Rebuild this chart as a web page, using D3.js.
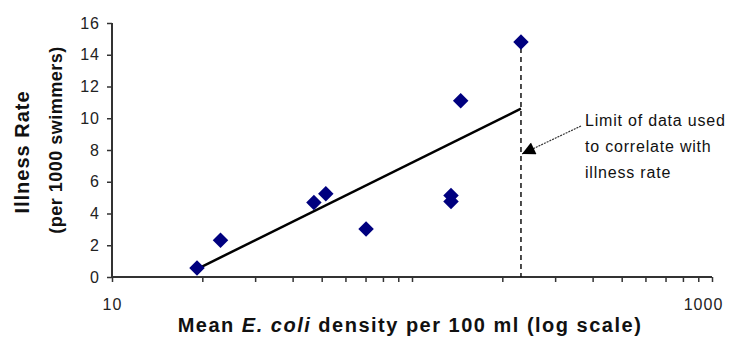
<!DOCTYPE html>
<html>
<head>
<meta charset="utf-8">
<script src="https://cdn.jsdelivr.net/npm/d3@7"></script>
<style>
  body { margin: 0; background: #fff; }
  svg { display: block; font-family: "Liberation Sans", Arial, sans-serif; }
</style>
</head>
<body>
<svg id="chart" width="736" height="337"></svg>
<script>
// E. coli density (per 100 ml) and illness rate (per 1000 swimmers)
const ecoli = [19.2, 23.0, 47.1, 51.6, 70.3, 134.9, 134.9, 145.3, 230.8];
const illness = [0.57, 2.31, 4.70, 5.25, 3.02, 5.14, 4.76, 11.1, 14.8];

// fitted line end points
const trendX = [19.2, 230.8];
const trendY = [0.5, 10.6];

const limitX = 230.8;

const xTicks = [10, 20, 30, 40, 50, 60, 70, 80, 90, 100, 200, 300, 400, 500, 600, 700, 800, 900, 1000];
const xLabels = [10, 1000];
const yTicks = [0, 2, 4, 6, 8, 10, 12, 14, 16];
const noteLines = ["Limit of data used", "to correlate with", "illness rate"];

const svg = d3.select('#chart');

const x = d3.scaleLog().domain([10, 1000]).range([112, 712]);
const y = d3.scaleLinear().domain([0, 16]).range([277, 23]);

// axes
const xAxis = svg.append('g')
    .attr('transform', 'translate(0,277)')
    .call(d3.axisBottom(x).tickValues(xTicks).tickSize(5).tickPadding(17)
        .tickFormat(d => xLabels.includes(d) ? d : ''));

const yAxis = svg.append('g')
    .attr('transform', 'translate(112,0)')
    .call(d3.axisLeft(y).tickValues(yTicks).tickSize(5).tickPadding(7));

[xAxis, yAxis].forEach(a => {
    a.select('.domain').attr('stroke', '#333').attr('stroke-width', 2);
    a.selectAll('.tick line').attr('stroke', '#333').attr('stroke-width', 1.5);
    a.selectAll('text')
        .style('font-size', '16px')
        .style('letter-spacing', '1px')
        .attr('fill', '#222');
});
yAxis.select('.domain').attr('d', 'M0,277V23');
xAxis.select('.domain').attr('d', 'M112,0H712');
// last label sits a little inside the edge, as in the original
xAxis.selectAll('.tick text').filter(d => d == 1000).attr('dx', -9);

// limit line
svg.append('line')
    .attr('x1', x(limitX)).attr('x2', x(limitX))
    .attr('y1', y(illness[8]) + 6).attr('y2', y(0))
    .attr('stroke', '#111')
    .attr('stroke-width', 1.5)
    .attr('stroke-dasharray', '5,4');

// trend line
svg.append('line')
    .attr('x1', x(trendX[0])).attr('y1', y(trendY[0]))
    .attr('x2', x(trendX[1])).attr('y2', y(trendY[1]))
    .attr('stroke', '#000')
    .attr('stroke-width', 2.5);

// points
svg.selectAll('.pt')
    .data(ecoli)
    .join('path')
    .attr('class', 'pt')
    .attr('d', d3.symbol().type(d3.symbolSquare).size(120))
    .attr('transform', (d, i) => `translate(${x(d)},${y(illness[i])}) rotate(45)`)
    .attr('fill', '#00007f');

// annotation arrow
svg.append('defs').append('marker')
    .attr('id', 'head')
    .attr('viewBox', '0 0 10 10')
    .attr('refX', 10).attr('refY', 5)
    .attr('markerWidth', 17).attr('markerHeight', 13)
    .attr('markerUnits', 'userSpaceOnUse')
    .attr('orient', 'auto')
    .append('path')
    .attr('d', 'M0,0L10,5L0,10Z')
    .attr('fill', '#000');

svg.append('line')
    .attr('x1', 581).attr('y1', 126)
    .attr('x2', x(limitX) + 1).attr('y2', 154)
    .attr('stroke', '#333')
    .attr('stroke-width', 1.2)
    .attr('stroke-dasharray', '2,1')
    .attr('marker-end', 'url(#head)');

svg.append('text')
    .attr('x', 585).attr('y', 126)
    .style('font-size', '16px')
    .style('letter-spacing', '0.8px')
    .attr('fill', '#111')
    .selectAll('tspan')
    .data(noteLines)
    .join('tspan')
    .attr('x', 585)
    .attr('dy', (d, i) => i == 0 ? 0 : 26)
    .text(d => d);

// axis titles
const xt = svg.append('text')
    .attr('x', 410).attr('y', 332)
    .attr('text-anchor', 'middle')
    .style('font-size', '20px')
    .style('font-weight', 'bold')
    .style('letter-spacing', '1.5px')
    .attr('fill', '#111');
xt.append('tspan').text('Mean ');
xt.append('tspan').style('font-style', 'italic').text('E. coli');
xt.append('tspan').text(' density per 100 ml (log scale)');

svg.append('text')
    .attr('transform', 'translate(29,152) rotate(-90)')
    .attr('text-anchor', 'middle')
    .style('font-size', '20px')
    .style('font-weight', 'bold')
    .style('letter-spacing', '1px')
    .attr('fill', '#111')
    .text('Illness Rate');

svg.append('text')
    .attr('transform', 'translate(62,140) rotate(-90)')
    .attr('text-anchor', 'middle')
    .style('font-size', '18px')
    .style('font-weight', 'bold')
    .style('letter-spacing', '0.5px')
    .attr('fill', '#111')
    .text('(per 1000 swimmers)');
</script>
</body>
</html>
